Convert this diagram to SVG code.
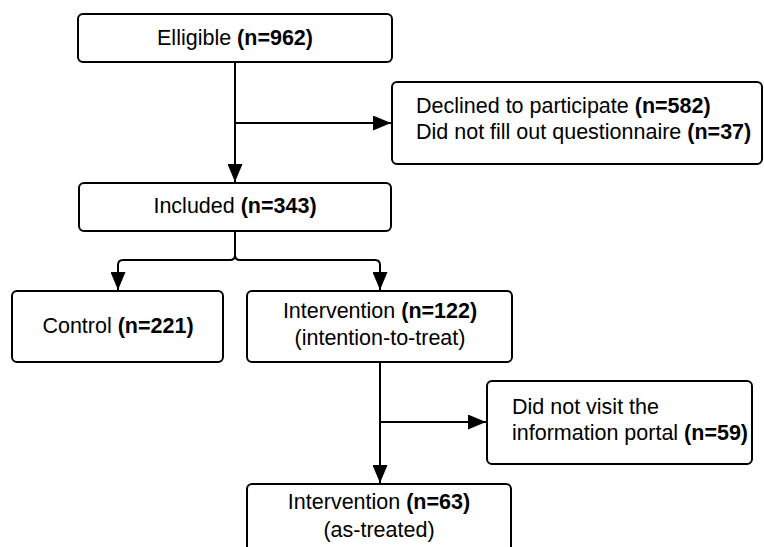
<svg xmlns="http://www.w3.org/2000/svg" width="764" height="547" viewBox="0 0 764 547">
<defs>
<marker id="ah" viewBox="0 0 18 15" refX="18" refY="7.5" markerWidth="18" markerHeight="15" markerUnits="userSpaceOnUse" orient="auto">
<path d="M0,0 L18,7.5 L0,15 Z" fill="#000"/>
</marker>
<style>
.box{fill:#fff;stroke:#000;stroke-width:2}
.t{font-family:"Liberation Sans",Arial,sans-serif;font-size:21.5px;fill:#000}
.c{text-anchor:middle}
.b{font-weight:bold}
.ln{fill:none;stroke:#000;stroke-width:2}
</style>
</defs>
<rect width="764" height="547" fill="#fff"/>
<g id="connectors">
<path class="ln" d="M235,62 V182" marker-end="url(#ah)"/>
<path class="ln" d="M235,123 H391" marker-end="url(#ah)"/>
<path class="ln" d="M235,231 V255 Q235,260 230,260 H123 Q118,260 118,265 V290" marker-end="url(#ah)"/>
<path class="ln" d="M235,255 Q235,260 240,260 H375 Q380,260 380,265 V290" marker-end="url(#ah)"/>
<path class="ln" d="M380,362 V483" marker-end="url(#ah)"/>
<path class="ln" d="M380,422 H486" marker-end="url(#ah)"/>
</g>
<g id="eligible">
<rect class="box" x="78" y="14" width="314" height="48" rx="5"/>
<text class="t c" x="235" y="45">Elligible <tspan class="b">(n=962)</tspan></text>
</g>
<g id="declined">
<rect class="box" x="392" y="82" width="370" height="82" rx="5"/>
<text class="t" x="416" y="113">Declined to participate <tspan class="b">(n=582)</tspan></text>
<text class="t" x="416" y="139">Did not fill out questionnaire <tspan class="b">(n=37)</tspan></text>
</g>
<g id="included">
<rect class="box" x="79" y="183" width="312" height="48" rx="5"/>
<text class="t c" x="235" y="213">Included <tspan class="b">(n=343)</tspan></text>
</g>
<g id="control">
<rect class="box" x="12" y="291" width="211" height="71" rx="5"/>
<text class="t c" x="118" y="333">Control <tspan class="b">(n=221)</tspan></text>
</g>
<g id="intervention-itt">
<rect class="box" x="247" y="291" width="265" height="71" rx="5"/>
<text class="t c" x="380" y="318">Intervention <tspan class="b">(n=122)</tspan></text>
<text class="t c" x="380" y="345">(intention-to-treat)</text>
</g>
<g id="not-visit">
<rect class="box" x="487" y="381" width="265" height="83" rx="5"/>
<text class="t" x="512" y="414">Did not visit the</text>
<text class="t" x="512" y="440">information portal <tspan class="b">(n=59)</tspan></text>
</g>
<g id="intervention-at">
<rect class="box" x="247" y="484" width="264" height="80" rx="5"/>
<text class="t c" x="379" y="509">Intervention <tspan class="b">(n=63)</tspan></text>
<text class="t c" x="379" y="537">(as-treated)</text>
</g>
</svg>
